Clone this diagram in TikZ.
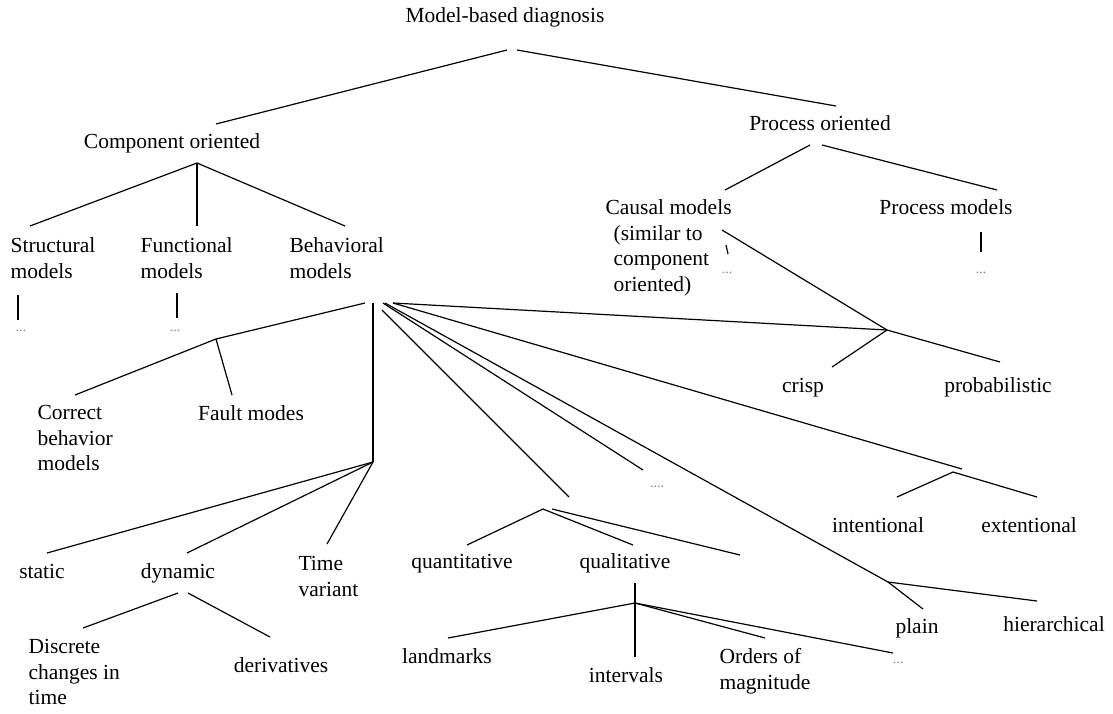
\documentclass[tikz,border=0pt]{standalone}
\usepackage{fontspec}
\setmainfont{Liberation Serif}
\usetikzlibrary{positioning}

\begin{document}
\begin{tikzpicture}[
    x=1pt, y=-1pt,
    line width=1.2pt,
    lbl/.style={inner sep=0pt, anchor=base, font=\fontsize{21.5}{25.5}\selectfont},
    mlbl/.style={lbl, align=left, anchor=north west},
    dotlbl/.style={inner sep=0pt, anchor=base, text=gray, font=\fontsize{14}{16}\selectfont}
]
\useasboundingbox (0,0) rectangle (1113,713);

% labels
\node[lbl] (root) at (505,22) {Model-based diagnosis};
\node[lbl] (comp) at (172,148) {Component oriented};
\node[lbl] (proc) at (820,130) {Process oriented};
\node[mlbl] (struct) at (10,237) {Structural\\models};
\node[mlbl] (func) at (140,237) {Functional\\models};
\node[mlbl] (behav) at (289,237) {Behavioral\\models};
\node[mlbl] (causal) at (605,199) {Causal models\\\hspace*{8pt}(similar to\\\hspace*{8pt}component\\\hspace*{8pt}oriented)};
\node[lbl] (procm) at (946,214) {Process models};
\node[dotlbl] (sd) at (21,331) {...};
\node[dotlbl] (fd) at (175,331) {...};
\node[dotlbl] (cd) at (727,273) {...};
\node[dotlbl] (pd) at (981,273) {...};
\node[mlbl] (correct) at (37,405) {Correct\\behavior\\models};
\node[lbl] (fault) at (251,420) {Fault modes};
\node[lbl] (static) at (42,578) {static};
\node[lbl] (dynamic) at (178,578) {dynamic};
\node[mlbl] (timev) at (298,556) {Time\\variant};
\node[mlbl] (discrete) at (28,639) {Discrete\\changes in\\time};
\node[lbl] (deriv) at (281,672) {derivatives};
\node[lbl] (quant) at (462,568) {quantitative};
\node[lbl] (qual) at (625,568) {qualitative};
\node[dotlbl] (dd) at (657,487) {....};
\node[lbl] (landm) at (447,663) {landmarks};
\node[lbl] (interv) at (626,682) {intervals};
\node[mlbl] (orders) at (719,648) {Orders of\\magnitude};
\node[dotlbl] (od) at (898,663) {...};
\node[lbl] (crisp) at (803,392) {crisp};
\node[lbl] (prob) at (998,392) {probabilistic};
\node[lbl] (intent) at (878,532) {intentional};
\node[lbl] (extent) at (1029,532) {extentional};
\node[lbl] (plain) at (917,633) {plain};
\node[lbl] (hier) at (1054,631) {hierarchical};

% junctions
\coordinate (jr) at ([shift={(7,28)}]root.base);
\coordinate (jc) at ([shift={(25,15)}]comp.base);
\coordinate (jp) at ([shift={(-4,15)}]proc.base);
\coordinate (jb) at ([shift={(84,66)}]behav.north west);
\coordinate (jcf) at (216,339);
\coordinate (jt) at (373,462);
\coordinate (jd) at ([shift={(5,15)}]dynamic.base);
\coordinate (jq) at (543,509);
\coordinate (jx) at (740,555);
\coordinate (jql) at (635,603);
\coordinate (jcp) at (887,330);
\coordinate (jie) at (953,472);
\coordinate (jph) at (888,582);

% top levels
\draw ([xshift=-5]jr) -- ([shift={(44,-24)}]comp.base);
\draw ([xshift=5]jr) -- ([shift={(16,-24)}]proc.base);
\draw (jc) -- ([shift={(20,-11)}]struct.north west);
\draw (jc) -- ([shift={(57,-11)}]func.north west);
\draw (jc) -- ([shift={(56,-11)}]behav.north west);
\draw ([xshift=-6]jp) -- ([shift={(120,-9)}]causal.north west);
\draw ([xshift=6]jp) -- ([shift={(51,-24)}]procm.base);
\draw ([shift={(-3,-36)}]sd.base) -- ([shift={(-3,-11)}]sd.base);
\draw ([shift={(2,-38)}]fd.base) -- ([shift={(2,-13)}]fd.base);
\draw ([shift={(-1,-28)}]cd.base) -- ([shift={(1,-19)}]cd.base);
\draw ([shift={(0,-41)}]pd.base) -- ([shift={(0,-21)}]pd.base);

% behavioral models
\draw ([xshift=-8]jb) -- (jcf);
\draw (jcf) -- ([shift={(38,-10)}]correct.north west);
\draw (jcf) -- ([shift={(-19,-25)}]fault.base);
\draw (jb) -- (jt);
\draw (jt) -- ([shift={(5,-25)}]static.base);
\draw (jt) -- ([shift={(9,-25)}]dynamic.base);
\draw (jt) -- ([shift={(29,-12)}]timev.north west);
\draw ([xshift=-5]jd) -- ([shift={(55,-11)}]discrete.north west);
\draw ([xshift=5]jd) -- ([shift={(-11,-35)}]deriv.base);
\draw ([shift={(9,7)}]jb) -- ([shift={(26,-12)}]jq);
\draw (jq) -- ([shift={(5,-23)}]quant.base);
\draw (jq) -- ([shift={(8,-23)}]qual.base);
\draw ([xshift=9]jq) -- (jx);
\draw ([xshift=10]jb) -- ([shift={(-14,-17)}]dd.base);
\draw ([xshift=12]jb) -- (jph);
\draw (jph) -- ([shift={(6,-24)}]plain.base);
\draw (jph) -- ([shift={(-17,-30)}]hier.base);
\draw ([xshift=20]jb) -- ([shift={(9,-3)}]jie);
\draw (jie) -- ([shift={(19,-35)}]intent.base);
\draw (jie) -- ([shift={(8,-35)}]extent.base);
\draw ([xshift=20]jb) -- (jcp);
\draw ([shift={(117,31)}]causal.north west) -- (jcp);
\draw (jcp) -- ([shift={(29,-25)}]crisp.base);
\draw (jcp) -- ([shift={(2,-30)}]prob.base);

% qualitative
\draw ([shift={(10,15)}]qual.base) -- ([shift={(9,-25)}]interv.base);
\draw (jql) -- ([shift={(1,-25)}]landm.base);
\draw (jql) -- ([shift={(46,-10)}]orders.north west);
\draw (jql) -- ([shift={(-5,-10)}]od.base);

\end{tikzpicture}
\end{document}
